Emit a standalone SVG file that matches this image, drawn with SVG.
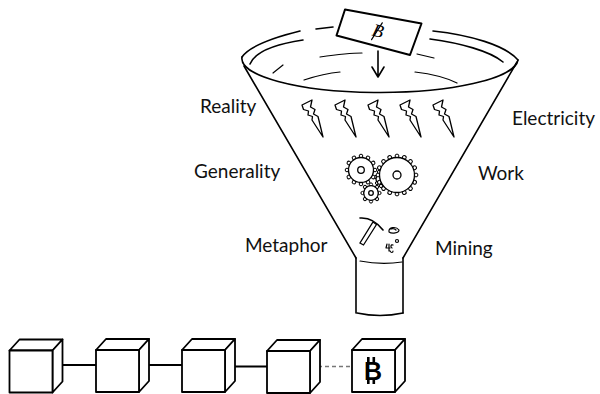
<svg xmlns="http://www.w3.org/2000/svg" xmlns:xlink="http://www.w3.org/1999/xlink" width="600" height="394" viewBox="0 0 600 394">
  <style>
    .ink { fill: none; stroke: #000; stroke-width: 1.6; stroke-linecap: round; stroke-linejoin: round; }
    .thin { fill: none; stroke: #000; stroke-width: 1.2; stroke-linecap: round; stroke-linejoin: round; }
    .solid { fill: #fff; stroke: #000; stroke-width: 1.3; }
    .tooth { fill: #fff; stroke: #000; stroke-width: 1; }
    .label { font-family: "Lato", "Liberation Sans", sans-serif; font-size: 19px; fill: #111; }
    .cube { fill: #fff; stroke: #000; stroke-width: 1.8; stroke-linejoin: round; }
    .link { stroke: #000; stroke-width: 1.8; }
    .dash { stroke: #777; stroke-width: 1.5; stroke-dasharray: 4 3; }
    .coin { fill: #000; stroke: none; }
  </style>
  <defs>
    <!-- lightning bolt outline, origin at its top-left -->
    <path id="bolt" d="M0 5 L10 0 L8.5 7 L13 9.5 L11.5 14 L16 16.5 L21 37 L10 20 L10.5 16.5 L6 15 L6.5 11 L1.5 9.5 Z"/>
    <!-- block of the chain, origin at top-left of the front face -->
    <g id="block">
      <path class="cube" d="M0 0 L10 -11 H53 L43 0 Z"/>
      <path class="cube" d="M43 0 L53 -11 V31 L43 42 Z"/>
      <rect class="cube" x="0" y="0" width="43" height="42"/>
    </g>
  </defs>

  <!-- funnel -->
  <g id="funnel">
    <!-- rim: back edge, in sketchy strokes -->
    <path class="ink" d="M300 31 C276 37 250 45 242 57"/>
    <path class="ink" d="M316 29 L333 27"/>
    <path class="ink" d="M433 31 C470 35 505 45 518 60"/>
    <!-- inner ring strokes -->
    <path class="ink" d="M250 64 C255 52 276 44 303 40"/>
    <path class="ink" d="M430 39 C460 43 490 51 503 62"/>
    <path class="thin" d="M273 73 L283 65"/>
    <path class="thin" d="M320 57 C334 55 348 53 362 53"/>
    <path class="thin" d="M304 80 C316 76 328 73 340 72"/>
    <path class="thin" d="M417 54 L434 58"/>
    <path class="thin" d="M415 72 C432 74 447 78 457 83"/>
    <!-- rim: front edge -->
    <path class="ink" d="M242 57 A138 34 0 0 0 518 60"/>
    <!-- cone sides -->
    <path class="ink" stroke-width="1.8" d="M244 66 L356 258"/>
    <path class="ink" stroke-width="1.8" d="M517 62 L403 258"/>
    <!-- spout -->
    <path class="ink" stroke-width="1.8" d="M356 258 V313"/>
    <path class="ink" stroke-width="1.8" d="M403 258 V313"/>
    <path class="thin" d="M360 261 Q381 265 402 262"/>
    <path class="ink" d="M357 313 Q380 318 403 313"/>
  </g>

  <!-- coin card dropping in -->
  <g id="card">
    <polygon points="345,9.5 421.5,23.5 410,55 336.5,35.5" fill="#fff" stroke="#000" stroke-width="2" stroke-linejoin="round"/>
    <g transform="rotate(15 378 31)">
      <text class="coin" x="378" y="37" font-family="Liberation Serif, serif" font-style="italic" font-size="18" text-anchor="middle">B</text>
      <path class="thin" d="M380 22 L374 41"/>
    </g>
    <path class="ink" stroke-width="2" d="M378 51 V76 M372 67 L378 77 L384 67"/>
  </g>

  <!-- lightning -->
  <g id="bolts" fill="#fff" stroke="#000" stroke-width="1.3" stroke-linejoin="round">
    <use xlink:href="#bolt" x="302" y="100"/>
    <use xlink:href="#bolt" x="335" y="100"/>
    <use xlink:href="#bolt" x="368" y="100"/>
    <use xlink:href="#bolt" x="400" y="100"/>
    <use xlink:href="#bolt" x="433" y="100"/>
  </g>

  <!-- gears -->
  <g id="gears">
    <!-- small gear tucked in between -->
    <g>
      <circle class="tooth" cx="379" cy="172" r="1.6"/>
      <circle class="tooth" cx="376" cy="177" r="1.6"/>
      <circle class="tooth" cx="377" cy="183" r="1.6"/>
      <circle class="tooth" cx="381" cy="186" r="1.6"/>
      <circle class="solid" cx="381" cy="179" r="5"/>
    </g>
    <!-- left gear -->
    <g>
      <circle class="tooth" cx="361" cy="156" r="1.8"/>
      <circle class="tooth" cx="361" cy="156" r="1.8" transform="rotate(30 361 170)"/>
      <circle class="tooth" cx="361" cy="156" r="1.8" transform="rotate(60 361 170)"/>
      <circle class="tooth" cx="361" cy="156" r="1.8" transform="rotate(90 361 170)"/>
      <circle class="tooth" cx="361" cy="156" r="1.8" transform="rotate(120 361 170)"/>
      <circle class="tooth" cx="361" cy="156" r="1.8" transform="rotate(150 361 170)"/>
      <circle class="tooth" cx="361" cy="156" r="1.8" transform="rotate(180 361 170)"/>
      <circle class="tooth" cx="361" cy="156" r="1.8" transform="rotate(210 361 170)"/>
      <circle class="tooth" cx="361" cy="156" r="1.8" transform="rotate(240 361 170)"/>
      <circle class="tooth" cx="361" cy="156" r="1.8" transform="rotate(270 361 170)"/>
      <circle class="tooth" cx="361" cy="156" r="1.8" transform="rotate(300 361 170)"/>
      <circle class="tooth" cx="361" cy="156" r="1.8" transform="rotate(330 361 170)"/>
      <circle class="solid" cx="361" cy="170" r="12.5"/>
      <circle class="solid" cx="361" cy="170" r="3.3"/>
    </g>
    <!-- small lower gear -->
    <g>
      <circle class="tooth" cx="371" cy="184.5" r="1.6"/>
      <circle class="tooth" cx="371" cy="184.5" r="1.6" transform="rotate(45 371 193)"/>
      <circle class="tooth" cx="371" cy="184.5" r="1.6" transform="rotate(90 371 193)"/>
      <circle class="tooth" cx="371" cy="184.5" r="1.6" transform="rotate(135 371 193)"/>
      <circle class="tooth" cx="371" cy="184.5" r="1.6" transform="rotate(180 371 193)"/>
      <circle class="tooth" cx="371" cy="184.5" r="1.6" transform="rotate(225 371 193)"/>
      <circle class="tooth" cx="371" cy="184.5" r="1.6" transform="rotate(270 371 193)"/>
      <circle class="tooth" cx="371" cy="184.5" r="1.6" transform="rotate(315 371 193)"/>
      <circle class="solid" cx="371" cy="193" r="7.3"/>
      <circle class="solid" cx="371" cy="193" r="2.3"/>
    </g>
    <!-- right gear -->
    <g>
      <circle class="tooth" cx="397" cy="156" r="1.9"/>
      <circle class="tooth" cx="397" cy="156" r="1.9" transform="rotate(22.5 397 175)"/>
      <circle class="tooth" cx="397" cy="156" r="1.9" transform="rotate(45 397 175)"/>
      <circle class="tooth" cx="397" cy="156" r="1.9" transform="rotate(67.5 397 175)"/>
      <circle class="tooth" cx="397" cy="156" r="1.9" transform="rotate(90 397 175)"/>
      <circle class="tooth" cx="397" cy="156" r="1.9" transform="rotate(112.5 397 175)"/>
      <circle class="tooth" cx="397" cy="156" r="1.9" transform="rotate(135 397 175)"/>
      <circle class="tooth" cx="397" cy="156" r="1.9" transform="rotate(157.5 397 175)"/>
      <circle class="tooth" cx="397" cy="156" r="1.9" transform="rotate(180 397 175)"/>
      <circle class="tooth" cx="397" cy="156" r="1.9" transform="rotate(202.5 397 175)"/>
      <circle class="tooth" cx="397" cy="156" r="1.9" transform="rotate(225 397 175)"/>
      <circle class="tooth" cx="397" cy="156" r="1.9" transform="rotate(247.5 397 175)"/>
      <circle class="tooth" cx="397" cy="156" r="1.9" transform="rotate(270 397 175)"/>
      <circle class="tooth" cx="397" cy="156" r="1.9" transform="rotate(292.5 397 175)"/>
      <circle class="tooth" cx="397" cy="156" r="1.9" transform="rotate(315 397 175)"/>
      <circle class="tooth" cx="397" cy="156" r="1.9" transform="rotate(337.5 397 175)"/>
      <circle class="solid" cx="397" cy="175" r="17.5"/>
      <circle class="solid" cx="397" cy="175" r="4"/>
    </g>
  </g>

  <!-- pickaxe and rocks -->
  <g id="mining">
    <path class="ink" d="M360 218 Q373 217 383 230"/>
    <path class="solid" stroke-width="1" d="M373 222 L376.5 224.5 L363.5 245 L360 243 Z"/>
    <path class="thin" d="M389 232 C388 227 396 226 399 230 C399 233 392 234 389 232 Z M391 229 C393 228 395 229 396 230"/>
    <circle class="thin" cx="397" cy="241" r="1.5"/>
    <path class="thin" d="M387 244 L386 248 L390 248 M389 244 L389 251 M393 245 C391 244 390 247 392 248 M390 251 C391 253 393 253 393 251"/>
  </g>

  <!-- labels -->
  <g id="labels" class="label">
    <text x="200" y="113">Reality</text>
    <text x="194" y="178">Generality</text>
    <text x="245" y="252">Metaphor</text>
    <text x="512" y="125">Electricity</text>
    <text x="478" y="180">Work</text>
    <text x="435" y="255">Mining</text>
  </g>

  <!-- chain of blocks -->
  <g id="links">
    <line class="link" x1="61" y1="365" x2="96" y2="365"/>
    <line class="link" x1="147" y1="365" x2="182" y2="365"/>
    <line class="link" x1="231" y1="366.5" x2="267" y2="366.5"/>
    <line class="dash" x1="318" y1="366.5" x2="351" y2="366.5"/>
  </g>
  <g id="block1"><use xlink:href="#block" x="9.5" y="350.5"/></g>
  <g id="block2"><use xlink:href="#block" x="96" y="350"/></g>
  <g id="block3"><use xlink:href="#block" x="182" y="350"/></g>
  <g id="block4"><use xlink:href="#block" x="267" y="351"/></g>
  <g id="block5">
    <use xlink:href="#block" x="352" y="350"/>
    <!-- bitcoin mark: bold B with the two stems above and below -->
    <text class="coin" x="373" y="380" font-family="Liberation Sans, sans-serif" font-weight="bold" font-size="25" text-anchor="middle">B</text>
    <rect class="coin" x="367" y="357" width="2.6" height="5"/>
    <rect class="coin" x="372.5" y="357" width="2.6" height="5"/>
    <rect class="coin" x="367" y="379" width="2.6" height="5"/>
    <rect class="coin" x="372.5" y="379" width="2.6" height="5"/>
  </g>
</svg>
